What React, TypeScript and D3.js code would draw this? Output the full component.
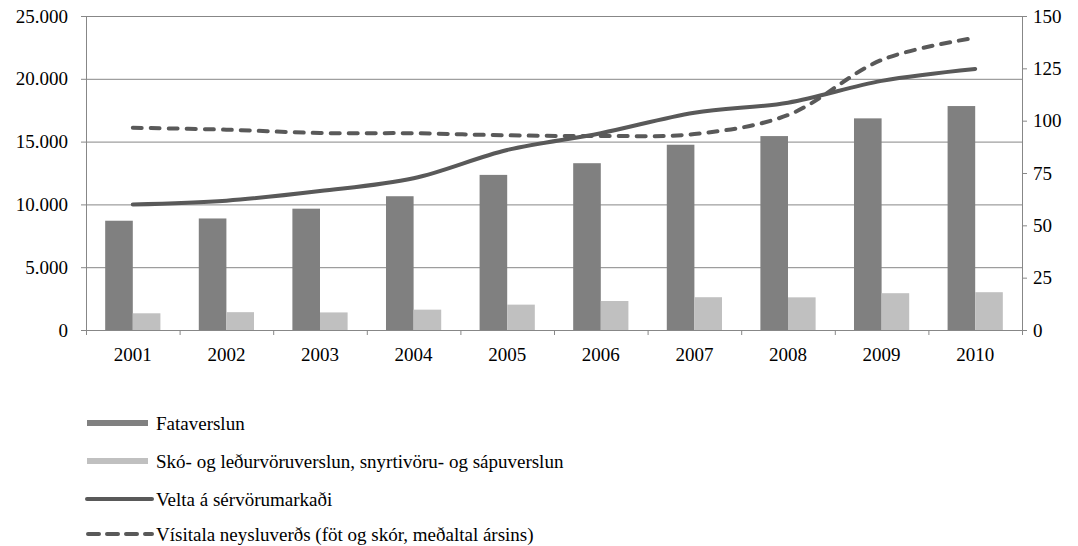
import React from "react";
import * as d3 from "d3";

const years = ["2001", "2002", "2003", "2004", "2005", "2006", "2007", "2008", "2009", "2010"];
const fataverslun = [8700, 8880, 9660, 10650, 12350, 13280, 14750, 15440, 16850, 17830];
const skoVerslun = [1330, 1420, 1400, 1620, 2020, 2310, 2610, 2600, 2930, 3010];
const velta = [60, 61.8, 66.4, 72.5, 86, 94, 103.8, 108.6, 119, 124.7];
const visitala = [96.6, 95.7, 94.1, 94, 93, 92.7, 93.6, 102.7, 129, 139.6];
const leftTicks = [0, 5000, 10000, 15000, 20000, 25000];
const rightTicks = [0, 25, 50, 75, 100, 125, 150];
const legendLabels = [
  "Fataverslun",
  "Skó- og leðurvöruverslun, snyrtivöru- og sápuverslun",
  "Velta á sérvörumarkaði",
  "Vísitala neysluverðs (föt og skór, meðaltal ársins)",
];

const W = 1078;
const H = 546;
const L = 86;
const R = 1022;
const T = 16;
const B = 330;
const FONT = "Liberation Serif, Times New Roman, serif";
const DARK = "#808080";
const LIGHT = "#c0c0c0";
const LINE = "#595959";
const GRID = "#878787";

export default function App() {
  const x = d3.scaleBand<string>().domain(years).range([L, R]).paddingInner(0).paddingOuter(0);
  const bw = x.bandwidth();
  const x1 = d3.scaleBand<number>().domain([0, 1]).range([bw * 0.205, bw * 0.795]).padding(0);
  const yL = d3.scaleLinear().domain([0, 25000]).range([B, T]);
  const yR = d3.scaleLinear().domain([0, 150]).range([B, T]);
  const fmt = (v: number) => (v === 0 ? "0" : d3.format(",")(v).replace(/,/g, "."));
  const cx = (y: string) => (x(y) as number) + bw / 2;
  const lineGen = d3
    .line<number>()
    .x((_, i) => cx(years[i]))
    .y((d) => yR(d))
    .curve(d3.curveCatmullRom.alpha(0.5));

  const legendY = [423, 461, 499, 534];
  const ts = { fontFamily: FONT, fontSize: 19, fill: "#000" } as React.CSSProperties;

  return (
    <svg width={W} height={H} style={{ position: "absolute", left: 0, top: 0, background: "#fff", fontFamily: FONT }}>
      {/* gridlines */}
      {leftTicks.map((t) => (
        <line key={"g" + t} x1={L} x2={R} y1={yL(t) + 0.5} y2={yL(t) + 0.5} stroke={GRID} strokeWidth={1} />
      ))}
      {/* axes */}
      <line x1={L + 0.5} x2={L + 0.5} y1={T} y2={B + 5} stroke={GRID} />
      <line x1={R + 0.5} x2={R + 0.5} y1={T} y2={B + 5} stroke={GRID} />
      {leftTicks.map((t) => (
        <line key={"lt" + t} x1={L - 5} x2={L} y1={yL(t) + 0.5} y2={yL(t) + 0.5} stroke={GRID} />
      ))}
      {rightTicks.map((t) => (
        <line key={"rt" + t} x1={R} x2={R + 5} y1={yR(t) + 0.5} y2={yR(t) + 0.5} stroke={GRID} />
      ))}
      {years.map((yr) => (
        <line key={"bt" + yr} x1={(x(yr) as number) + 0.5} x2={(x(yr) as number) + 0.5} y1={B} y2={B + 5} stroke={GRID} />
      ))}
      {/* bars */}
      {years.map((yr, i) => (
        <g key={"b" + yr}>
          <rect x={(x(yr) as number) + (x1(0) as number)} y={yL(fataverslun[i])} width={x1.bandwidth()} height={B - yL(fataverslun[i])} fill={DARK} />
          <rect x={(x(yr) as number) + (x1(1) as number)} y={yL(skoVerslun[i])} width={x1.bandwidth()} height={B - yL(skoVerslun[i])} fill={LIGHT} />
        </g>
      ))}
      {/* lines */}
      <path d={lineGen(velta) || ""} fill="none" stroke={LINE} strokeWidth={4} strokeLinecap="round" />
      <path d={lineGen(visitala) || ""} fill="none" stroke={LINE} strokeWidth={4} strokeDasharray="9,9" strokeLinecap="round" />
      {/* tick labels */}
      {leftTicks.map((t) => (
        <text key={"ll" + t} x={68} y={yL(t)} dy="0.35em" textAnchor="end" style={ts}>
          {fmt(t)}
        </text>
      ))}
      {rightTicks.map((t) => (
        <text key={"rl" + t} x={1033} y={yR(t)} dy="0.35em" textAnchor="start" style={ts}>
          {t}
        </text>
      ))}
      {years.map((yr) => (
        <text key={"xl" + yr} x={cx(yr)} y={361} textAnchor="middle" style={ts}>
          {yr}
        </text>
      ))}
      {/* legend */}
      <rect x={87} y={legendY[0] - 3} width={61} height={6} fill={DARK} />
      <rect x={87} y={legendY[1] - 3} width={61} height={6} fill={LIGHT} />
      <line x1={87} x2={152} y1={legendY[2]} y2={legendY[2]} stroke={LINE} strokeWidth={4} strokeLinecap="round" />
      <line x1={88} x2={152} y1={legendY[3]} y2={legendY[3]} stroke={LINE} strokeWidth={4} strokeDasharray="11,8" strokeLinecap="round" />
      {legendLabels.map((lab, i) => (
        <text key={"lg" + i} x={156} y={legendY[i]} dy="0.35em" style={ts}>
          {lab}
        </text>
      ))}
    </svg>
  );
}
